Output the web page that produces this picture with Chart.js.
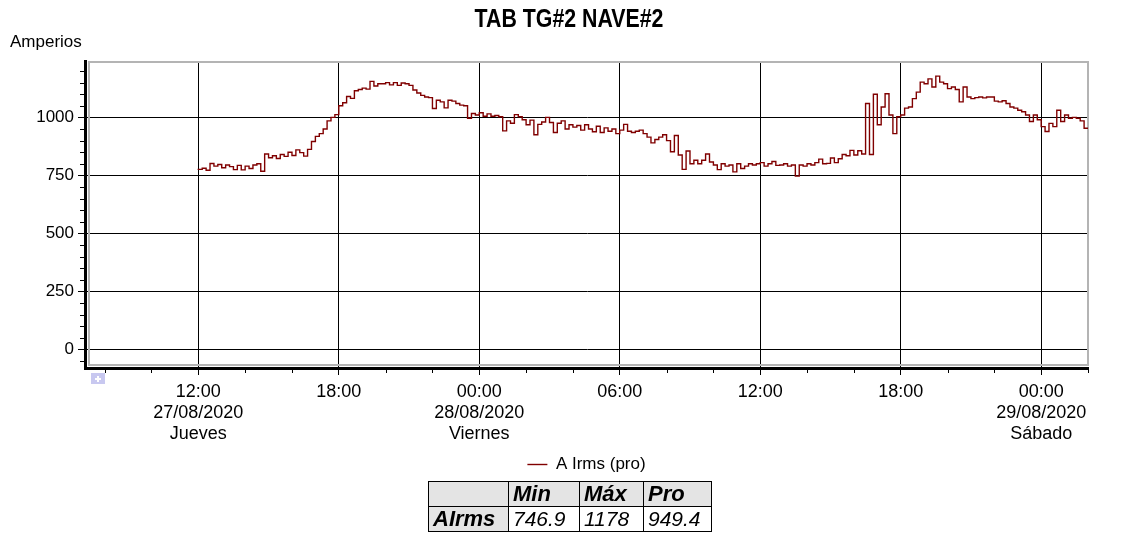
<!DOCTYPE html>
<html>
<head>
<meta charset="utf-8">
<title>TAB TG#2 NAVE#2</title>
<script src="https://cdn.jsdelivr.net/npm/chart.js@4.4.0/dist/chart.umd.min.js"></script>
<style>
  body { margin: 0; background: #fff; }
  #wrap { position: relative; width: 1124px; height: 537px; }
  #stats {
    position: absolute; left: 428px; top: 481px;
    border-collapse: collapse;
    font-family: 'Liberation Sans', Arial, sans-serif;
    font-size: 21px; font-style: italic; color: #000;
  }
  #stats td { border: 1px solid #000; padding: 0 4px; height: 24px; line-height: 24px; white-space: nowrap; }
  #stats .hd { background: #e4e4e4; font-weight: bold; font-size: 22px; }
</style>
</head>
<body>
<div id="wrap">
  <canvas id="chart" width="1124" height="537"></canvas>
  <table id="stats"></table>
</div>
<script>
// A Irms (pro), one value every 10 minutes starting 27/08/2020 12:00
const startHour = 12;
const day27 = [
  779, 776, 781, 772, 801, 790,
  797, 783, 795, 788, 775, 793,
  774, 790, 780, 795, 800, 768,
  842, 826, 835, 823, 840, 832,
  850, 836, 860, 848, 833, 862,
  896, 918, 930, 950, 985, 1000,
  1012, 1050, 1063, 1090, 1082, 1115,
  1120, 1126, 1122, 1155, 1135, 1145,
  1145, 1150, 1140, 1150, 1138, 1148,
  1145, 1138, 1118, 1105, 1095, 1088,
  1085, 1038, 1074, 1067, 1041, 1074,
  1070, 1060, 1053, 1050, 996, 1017
];
const day28am = [
  1010, 1020, 1005, 1015, 1005, 1008,
  1003, 942, 985, 975, 1012, 1003,
  990, 968, 988, 925, 970, 980,
  1000, 978, 935, 975, 985, 950,
  968, 958, 965, 945, 968, 950,
  938, 962, 935, 955, 940, 950,
  930, 945, 970, 940, 935, 940,
  945, 930, 915, 890, 905, 915,
  925, 900, 852, 922, 838, 776,
  855, 800, 815, 800, 815, 842,
  808, 795, 775, 800, 790, 795,
  765, 800, 780, 790, 800, 795
];
const day28pm = [
  800, 805, 790, 800, 810, 793,
  795, 800, 790, 795, 747, 795,
  790, 800, 795, 805, 820, 800,
  802, 825, 805, 822, 840, 835,
  858, 838, 856, 842, 1060, 840,
  1100, 968, 1045, 1102, 1010, 930,
  1003, 1010, 1040, 1045, 1081, 1109,
  1152, 1145, 1166, 1131, 1178, 1152,
  1145, 1124, 1131, 1120, 1067, 1131,
  1088, 1081, 1085, 1088, 1084, 1088,
  1088, 1070, 1067, 1072, 1060, 1045,
  1040, 1031, 1024, 1010, 982, 1010,
  990, 960, 939, 974, 960, 1031,
  982, 1010, 996, 1000, 996, 985, 953
];
const irms = day27.concat(day28am, day28pm);

// axis ticks (hours since 27/08 00:00)
const xTickHours = [8, 10, 12, 14, 16, 18, 20, 22, 24, 26, 28, 30, 32, 34, 36, 38, 40, 42, 44, 46, 48, 50];
const xTickLabels = {
  12: ['12:00', '27/08/2020', 'Jueves'],
  18: '18:00',
  24: ['00:00', '28/08/2020', 'Viernes'],
  30: '06:00',
  36: '12:00',
  42: '18:00',
  48: ['00:00', '29/08/2020', 'Sábado']
};
const yMajorTicks = [0, 250, 500, 750, 1000];
const yMinorStep = 50;

// summary table
const statCols = ['Min', 'Máx', 'Pro'];
const statRow = 'AIrms';
const statVals = ['746.9', '1178', '949.4'];

const points = irms.map((v, i) => ({ x: startHour + i / 6, y: v }));

const font = "'Liberation Sans', Arial, sans-serif";
const isMajorX = v => v % 6 === 0;
const isMajorY = v => yMajorTicks.includes(v);

// title (condensed bold), grey frame inside the plot, short minor ticks, marker, y title
const decor = {
  id: 'decor',
  beforeDatasetsDraw(chart) {
    const a = chart.chartArea, c = chart.ctx;
    c.save();
    c.strokeStyle = '#b4b4b4';
    c.lineWidth = 2;
    c.strokeRect(a.left + 4, a.top + 1, a.right - a.left - 4, a.bottom - a.top - 4);
    c.restore();
  },
  afterDraw(chart) {
    const a = chart.chartArea, c = chart.ctx;
    const xs = chart.scales.x, ys = chart.scales.y;

    // minor tick marks, shorter than the major ones
    c.save();
    c.strokeStyle = '#000';
    c.lineWidth = 1;
    c.beginPath();
    xs.ticks.forEach(t => {
      if (isMajorX(t.value)) return;
      const px = Math.round(xs.getPixelForValue(t.value)) + 0.5;
      c.moveTo(px, a.bottom + 1);
      c.lineTo(px, a.bottom + 5);
    });
    ys.ticks.forEach(t => {
      if (isMajorY(t.value)) return;
      const py = Math.round(ys.getPixelForValue(t.value)) + 0.5;
      c.moveTo(a.left - 1, py);
      c.lineTo(a.left - 5, py);
    });
    c.stroke();
    c.restore();

    c.save();
    c.fillStyle = '#000';
    c.font = 'bold 26px ' + font;
    c.textAlign = 'center';
    c.textBaseline = 'alphabetic';
    c.translate(569, 27);
    c.scale(0.82, 1);
    c.fillText('TAB TG#2 NAVE#2', 0, 0);
    c.restore();

    c.save();
    c.fillStyle = '#000';
    c.font = '17px ' + font;
    c.textBaseline = 'middle';
    c.fillText('Amperios', 10, 42);
    c.fillStyle = '#c8c8f0';
    c.fillRect(a.left + 6, a.bottom + 5, 14, 11);
    c.fillStyle = '#fff';
    c.fillRect(a.left + 12, a.bottom + 8, 2, 6);
    c.fillRect(a.left + 10, a.bottom + 10, 6, 2);
    c.restore();
  }
};

new Chart(document.getElementById('chart'), {
  type: 'line',
  data: {
    datasets: [{
      label: 'A Irms (pro)',
      data: points,
      borderColor: '#800000',
      backgroundColor: '#800000',
      borderWidth: 1.4,
      pointRadius: 0,
      stepped: 'after',
      fill: false
    }]
  },
  options: {
    responsive: false,
    animation: false,
    layout: { padding: { left: 0, right: 36, top: 61, bottom: 54 } },
    plugins: {
      title: { display: false },
      legend: {
        position: 'bottom',
        fullSize: false,
        labels: {
          color: '#000',
          font: { family: font, size: 17 },
          usePointStyle: true,
          pointStyle: 'line',
          pointStyleWidth: 20,
          padding: 10
        }
      },
      tooltip: { enabled: false }
    },
    scales: {
      x: {
        type: 'linear',
        min: 7.16,
        max: 50,
        afterBuildTicks: s => { s.ticks = xTickHours.map(v => ({ value: v })); },
        afterFit: s => { s.height = 78; },
        ticks: {
          autoSkip: false,
          maxRotation: 0,
          color: '#000',
          font: { family: font, size: 18, lineHeight: 1.15 },
          padding: 7,
          callback: v => xTickLabels[v] || ''
        },
        grid: {
          color: ctx => (ctx.tick && isMajorX(ctx.tick.value)) ? '#000' : 'rgba(0,0,0,0)',
          tickColor: ctx => (ctx.tick && isMajorX(ctx.tick.value)) ? '#000' : 'rgba(0,0,0,0)',
          tickLength: 7,
          lineWidth: 1
        },
        border: { color: '#000', width: 3 }
      },
      y: {
        min: -80,
        max: 1243,
        afterBuildTicks: s => {
          const t = [];
          for (let v = -50; v <= 1200; v += yMinorStep) t.push({ value: v });
          s.ticks = t;
        },
        afterFit: s => { s.width = 85; },
        ticks: {
          autoSkip: false,
          color: '#000',
          font: { family: font, size: 17 },
          padding: 4,
          callback: v => isMajorY(v) ? String(v) : ''
        },
        grid: {
          color: ctx => (ctx.tick && isMajorY(ctx.tick.value)) ? '#000' : 'rgba(0,0,0,0)',
          tickColor: ctx => (ctx.tick && isMajorY(ctx.tick.value)) ? '#000' : 'rgba(0,0,0,0)',
          tickLength: 7,
          lineWidth: 1
        },
        border: { color: '#000', width: 3 }
      }
    }
  },
  plugins: [decor]
});

// summary table under the legend
const tbl = document.getElementById('stats');
const widths = [80, 71, 64, 68];
let html = '<tr><td class="hd" style="width:' + (widths[0] - 9) + 'px"></td>';
statCols.forEach((c, i) => { html += '<td class="hd" style="width:' + (widths[i + 1] - 9) + 'px">' + c + '</td>'; });
html += '</tr><tr><td class="hd">' + statRow + '</td>';
statVals.forEach(v => { html += '<td>' + v + '</td>'; });
html += '</tr>';
tbl.innerHTML = html;
</script>
</body>
</html>
